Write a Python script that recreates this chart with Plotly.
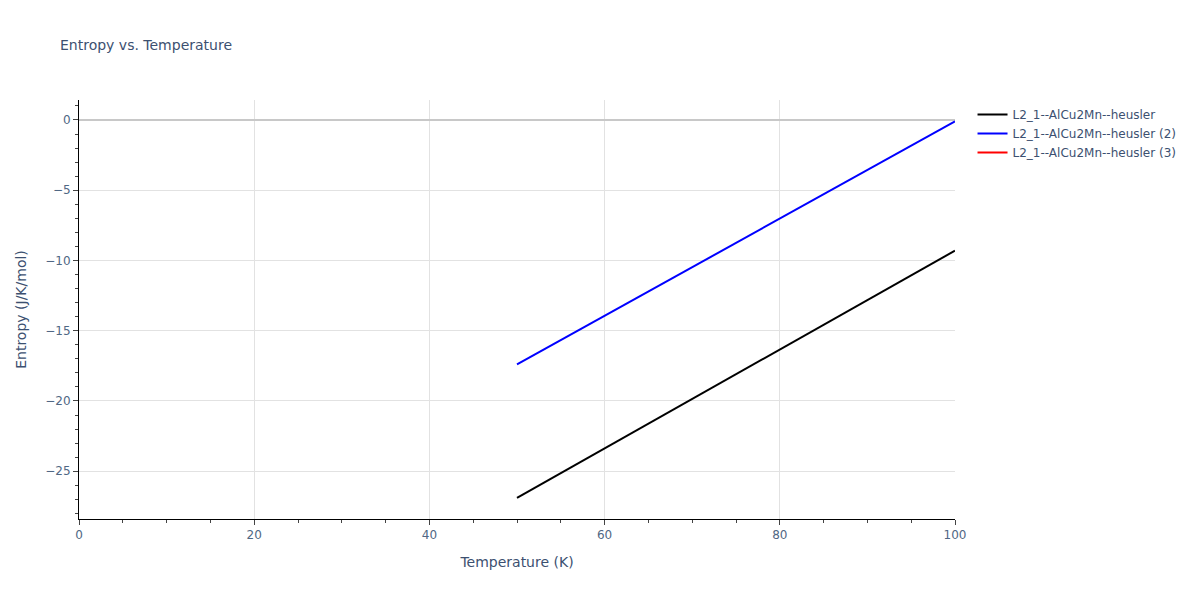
import plotly.graph_objects as go

# valeurs
temperature = [50, 60, 70, 80, 90, 100]
entropy_1 = [-26.9, -23.38, -19.86, -16.34, -12.82, -9.3]
entropy_2 = [-17.4, -13.94, -10.48, -7.02, -3.56, -0.1]
entropy_3 = [None, None, None, None, None, None]  # trace (3) : aucune valeur visible

names = [
    "L2_1--AlCu2Mn--heusler",
    "L2_1--AlCu2Mn--heusler (2)",
    "L2_1--AlCu2Mn--heusler (3)",
]
colors = ["black", "blue", "red"]

fig = go.Figure()
for ys, name, col in zip([entropy_1, entropy_2, entropy_3], names, colors):
    fig.add_trace(go.Scatter(x=temperature, y=ys, mode="lines", name=name,
                             showlegend=True, line=dict(color=col, width=2)))

axis_style = dict(
    showline=True, linecolor="black", linewidth=1,
    ticks="outside", ticklen=5, tickcolor="#444",
    gridcolor="#e2e2e2", zeroline=True, zerolinecolor="#c8c8c8", zerolinewidth=2,
    tickfont=dict(color="#506784", size=12),
    title_font=dict(size=14, color="#3c5070"),
)

# la page ajoute 8 px de marge au body : on compense dans les marges
fig.update_layout(
    title=dict(text="Entropy vs. Temperature", x=52 / 1192, xanchor="left",
               y=1 - 37 / 592, yanchor="middle",
               font=dict(size=14, color="#3c5070")),
    paper_bgcolor="white",
    plot_bgcolor="white",
    width=1192, height=592,
    margin=dict(l=71, r=245, t=92, b=81, autoexpand=False),
    font=dict(family="Verdana, DejaVu Sans, sans-serif", color="#2a3f5f"),
    legend=dict(x=1.02, y=1.0, yanchor="top", font=dict(size=12, color="#3c5070")),
    xaxis=dict(title="Temperature (K)", range=[0, 100], dtick=20,
               minor=dict(dtick=5, ticks="outside", ticklen=3, tickcolor="#444", showgrid=False),
               **axis_style),
    yaxis=dict(title="Entropy (J/K/mol)", range=[-28.4, 1.42], dtick=5,
               minor=dict(dtick=1, ticks="outside", ticklen=3, tickcolor="#444", showgrid=False),
               **axis_style),
)

fig.write_html("out.html")
